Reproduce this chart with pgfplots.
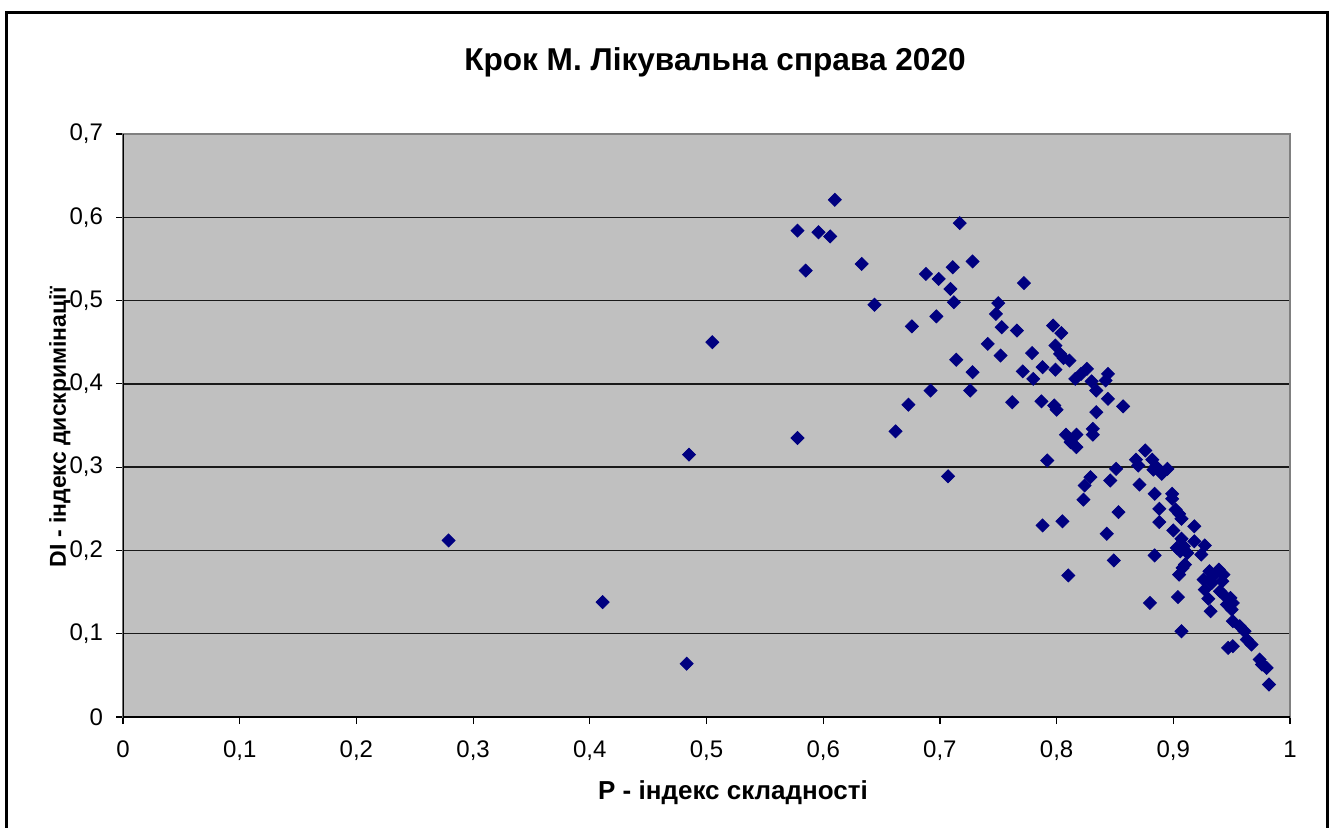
\documentclass[border=0pt]{standalone}
\usepackage{fontspec}
\setmainfont{Liberation Sans}
\usepackage{pgfplots}
\pgfplotsset{compat=1.18}
\definecolor{navy}{HTML}{000080}
\definecolor{plotgray}{HTML}{C0C0C0}
\begin{document}
\begin{tikzpicture}[x=1pt,y=1pt]
\useasboundingbox (-61.5,-55) rectangle (606,358.5);
\draw[line width=1.5pt] (-58,-70) -- (-58,352.5) -- (602,352.5) -- (602,-70);
\node[font=\fontsize{15.8}{18}\selectfont\bfseries] at (296,327.5) {Крок М. Лікувальна справа 2020};
\begin{axis}[
  at={(0,0)}, anchor=south west,
  scale only axis, width=583.5pt, height=291.5pt,
  xmin=0, xmax=1, ymin=0, ymax=0.7,
  xtick={0,0.1,0.2,0.3,0.4,0.5,0.6,0.7,0.8,0.9,1},
  ytick={0,0.1,0.2,0.3,0.4,0.5,0.6,0.7},
  /pgf/number format/use comma,
  /pgf/number format/assume math mode=true,
  xticklabel style={font=\fontsize{12}{14}\selectfont, yshift=-5pt},
  yticklabel style={font=\fontsize{12}{14}\selectfont, xshift=-3pt},
  xtick pos=bottom, ytick pos=left,
  tick align=outside, major tick length=3.5pt,
  tick style={black, line width=0.6pt},
  axis background/.style={fill=plotgray},
  axis line style={draw=gray, line width=0.6pt},
  ymajorgrids,
  major grid style={black!90, line width=0.7pt},
  xlabel={P - індекс складності},
  ylabel={DI - індекс дискримінації},
  xlabel style={font=\fontsize{13}{15}\selectfont\bfseries, at={(axis description cs:0.5227,0)}, anchor=center, yshift=-38pt},
  ylabel style={font=\fontsize{11.5}{13}\selectfont\bfseries, at={(axis description cs:0,0.497)}, anchor=center, yshift=31.5pt},
]
\addplot[only marks, mark=square*, mark size=2.3pt, mark options={rotate=45, fill=navy, draw=navy}] coordinates {
(0.279,0.212) (0.411,0.138) (0.483,0.064) (0.485,0.315) (0.505,0.450)
(0.578,0.584) (0.578,0.335) (0.585,0.536) (0.596,0.582) (0.606,0.577)
(0.610,0.621) (0.633,0.544) (0.644,0.495) (0.662,0.343)
(0.717,0.593) (0.728,0.547) (0.711,0.540) (0.688,0.532) (0.699,0.526)
(0.709,0.514) (0.712,0.498) (0.772,0.521) (0.750,0.497) (0.748,0.484)
(0.697,0.481) (0.676,0.469) (0.753,0.468) (0.766,0.464) (0.797,0.470)
(0.804,0.461) (0.741,0.448) (0.799,0.446) (0.752,0.434) (0.779,0.437)
(0.803,0.436) (0.806,0.431) (0.811,0.428) (0.714,0.429) (0.788,0.420)
(0.799,0.417) (0.771,0.415) (0.780,0.406) (0.816,0.406) (0.728,0.414)
(0.692,0.392) (0.726,0.392) (0.673,0.375) (0.762,0.378) (0.787,0.379)
(0.798,0.374) (0.800,0.369) (0.707,0.289)
(0.821,0.412) (0.826,0.418) (0.830,0.403) (0.834,0.392) (0.842,0.404)
(0.844,0.412) (0.844,0.382) (0.857,0.373) (0.834,0.366) (0.808,0.339)
(0.812,0.330) (0.817,0.339) (0.817,0.324) (0.831,0.346) (0.831,0.339)
(0.792,0.308) (0.876,0.320) (0.868,0.309) (0.870,0.302) (0.882,0.309)
(0.885,0.301) (0.883,0.297) (0.890,0.292) (0.895,0.298) (0.851,0.298)
(0.846,0.284) (0.829,0.288) (0.824,0.278) (0.823,0.261) (0.871,0.279)
(0.884,0.268) (0.888,0.250) (0.888,0.234) (0.853,0.246) (0.788,0.230)
(0.805,0.235) (0.843,0.220) (0.849,0.188) (0.884,0.194) (0.810,0.170)
(0.899,0.268) (0.899,0.262) (0.902,0.249) (0.905,0.244) (0.907,0.238)
(0.900,0.224) (0.918,0.229) (0.907,0.214) (0.903,0.203) (0.909,0.205)
(0.912,0.197) (0.906,0.199) (0.918,0.211) (0.927,0.206) (0.924,0.195)
(0.910,0.183) (0.908,0.179)
(0.905,0.171) (0.931,0.175) (0.939,0.177) (0.943,0.171) (0.934,0.169)
(0.926,0.165) (0.933,0.161) (0.927,0.153) (0.942,0.163) (0.940,0.151)
(0.943,0.147) (0.930,0.142) (0.949,0.143) (0.946,0.135) (0.951,0.137)
(0.950,0.129) (0.932,0.127) (0.904,0.144) (0.880,0.137) (0.907,0.103)
(0.951,0.115) (0.957,0.109) (0.961,0.103) (0.963,0.093) (0.967,0.087)
(0.947,0.083) (0.951,0.085) (0.974,0.069) (0.976,0.063) (0.980,0.059)
(0.982,0.039)
};
\draw[black, line width=0.7pt] (axis cs:0,0.7) -- (axis cs:0,0) -- (axis cs:1,0);
\end{axis}
\end{tikzpicture}
\end{document}
